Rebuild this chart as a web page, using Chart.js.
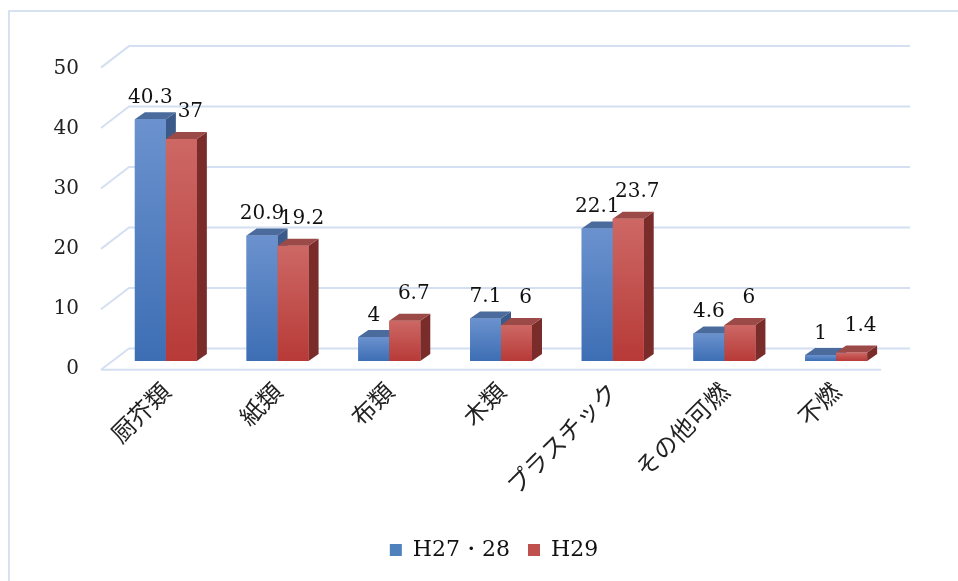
<!DOCTYPE html>
<html>
<head>
<meta charset="utf-8">
<script src="https://cdn.jsdelivr.net/npm/chart.js@4.4.0/dist/chart.umd.min.js"></script>
<style>
    html, body { margin: 0; padding: 0; background: #fff; }
    #caixa { position: relative; width: 958px; height: 581px; overflow: hidden; }
    #moldura { position: absolute; left: 8px; top: 10px; width: 1000px; height: 1000px; border: 2px solid #d6e1f1; }
    canvas { position: absolute; left: 0; top: 0; }
</style>
</head>
<body>
<div id="caixa">
    <div id="moldura"></div>
    <canvas id="grafico" width="958" height="581"></canvas>
</div>
<script>
// dados do grafico
var categorias = ['厨芥類', '紙類', '布類', '木類', 'プラスチック', 'その他可燃', '不燃'];
var valoresH2728 = [40.3, 20.9, 4, 7.1, 22.1, 4.6, 1];
var valoresH29 = [37, 19.2, 6.7, 6, 23.7, 6, 1.4];
var ticksY = [0, 10, 20, 30, 40, 50];
var nomesSeries = ['H27・28', 'H29'];

// cores das faces (frente em degrade, lado, topo)
var cores3d = [
    { frenteTopo: '#6b92ce', frenteBase: '#3d6eb4', lado: '#3b5a89', topo: '#4b6b9c', solida: '#4f81bd' },
    { frenteTopo: '#cd6865', frenteBase: '#b73a37', lado: '#7a2c2a', topo: '#9c4a48', solida: '#c0504d' }
];
var profX = 10, profY = 7;

var fonteNum = 'DejaVu Serif';

// grade e chao em perspectiva + barras em 3D + rotulos
var plugin3d = {
    id: 'plugin3d',
    afterLayout: function (chart) {
        // legenda um pouco deslocada para a direita, como no original
        chart.legend.left += 33;
        chart.legend.right += 33;
    },
    beforeDatasetsDraw: function (chart) {
        var ctx = chart.ctx;
        var escala = chart.scales.y;
        var area = chart.chartArea;
        var y0 = escala.getPixelForValue(0);
        ctx.save();
        ctx.strokeStyle = '#d4e0f1';
        ctx.lineWidth = 2;
        ticksY.forEach(function (v) {
            var d = escala.getPixelForValue(v) - y0;
            var yFundo = y0 - 12.5 + d * 1.008;
            var yFrente = y0 + 8.7 + d * 1.007;
            ctx.beginPath();
            ctx.moveTo(area.left - 9, yFrente);
            ctx.lineTo(area.left + 19, yFundo);
            ctx.lineTo(area.right + 18, yFundo);
            ctx.stroke();
        });
        // borda da frente do chao
        ctx.beginPath();
        ctx.moveTo(area.left - 9, y0 + 8.7);
        ctx.lineTo(area.right - 11, y0 + 8.7);
        ctx.stroke();
        ctx.restore();
    },
    afterDatasetsDraw: function (chart) {
        var ctx = chart.ctx;
        ctx.save();
        for (var i = 0; i < categorias.length; i++) {
            for (var ds = 0; ds < 2; ds++) {
                var barra = chart.getDatasetMeta(ds).data[i];
                var c = cores3d[ds];
                var l = barra.x - barra.width / 2;
                var r = barra.x + barra.width / 2;
                var t = barra.y;
                var b = barra.base;

                // lado
                ctx.fillStyle = c.lado;
                ctx.beginPath();
                ctx.moveTo(r, t);
                ctx.lineTo(r + profX, t - profY);
                ctx.lineTo(r + profX, b - profY);
                ctx.lineTo(r, b);
                ctx.closePath();
                ctx.fill();

                // topo
                ctx.fillStyle = c.topo;
                ctx.beginPath();
                ctx.moveTo(l, t);
                ctx.lineTo(l + profX, t - profY);
                ctx.lineTo(r + profX, t - profY);
                ctx.lineTo(r, t);
                ctx.closePath();
                ctx.fill();

                // frente
                var grad = ctx.createLinearGradient(0, t, 0, b);
                grad.addColorStop(0, c.frenteTopo);
                grad.addColorStop(1, c.frenteBase);
                ctx.fillStyle = grad;
                ctx.fillRect(l, t, r - l, b - t);
            }
        }

        // rotulos de valor
        ctx.font = '20px "' + fonteNum + '"';
        ctx.fillStyle = '#111';
        ctx.textAlign = 'center';
        ctx.textBaseline = 'alphabetic';
        var listas = [valoresH2728, valoresH29];
        for (var s = 0; s < 2; s++) {
            var meta = chart.getDatasetMeta(s);
            for (var k = 0; k < listas[s].length; k++) {
                var bar = meta.data[k];
                if (s == 0) {
                    ctx.fillText(String(listas[s][k]), bar.x, bar.y - 16.5);
                } else {
                    ctx.fillText(String(listas[s][k]), bar.x + 9, bar.y - 22);
                }
            }
        }
        ctx.restore();
    }
};

var config = {
    type: 'bar',
    data: {
        labels: categorias,
        datasets: [
            {
                label: nomesSeries[0],
                data: valoresH2728,
                backgroundColor: cores3d[0].solida,
                borderWidth: 0,
                barPercentage: 1,
                categoryPercentage: 0.555
            },
            {
                label: nomesSeries[1],
                data: valoresH29,
                backgroundColor: cores3d[1].solida,
                borderWidth: 0,
                barPercentage: 1,
                categoryPercentage: 0.555
            }
        ]
    },
    options: {
        responsive: false,
        animation: false,
        devicePixelRatio: 1,
        layout: { padding: { left: 30, right: 66, top: 61, bottom: 10 } },
        plugins: {
            tooltip: { enabled: false },
            legend: {
                position: 'bottom',
                labels: {
                    boxWidth: 12,
                    boxHeight: 12,
                    padding: 18,
                    color: '#111',
                    font: { family: fonteNum, size: 22 }
                }
            }
        },
        scales: {
            x: {
                grid: { display: false, drawTicks: false },
                border: { display: false },
                ticks: {
                    color: '#222',
                    minRotation: 45,
                    maxRotation: 45,
                    padding: 16,
                    font: { family: '"Noto Sans CJK JP"', size: 24 }
                },
                afterFit: function (s) { s.height = 160; }
            },
            y: {
                min: 0,
                max: 50,
                grid: { display: false, drawTicks: false },
                border: { display: false },
                ticks: {
                    stepSize: 10,
                    padding: 31,
                    labelOffset: 8,
                    color: '#222',
                    font: { family: fonteNum, size: 20 }
                },
                afterFit: function (s) { s.width = 80; }
            }
        }
    },
    plugins: [plugin3d]
};

var grafico = new Chart(document.getElementById('grafico'), config);
</script>
</body>
</html>
